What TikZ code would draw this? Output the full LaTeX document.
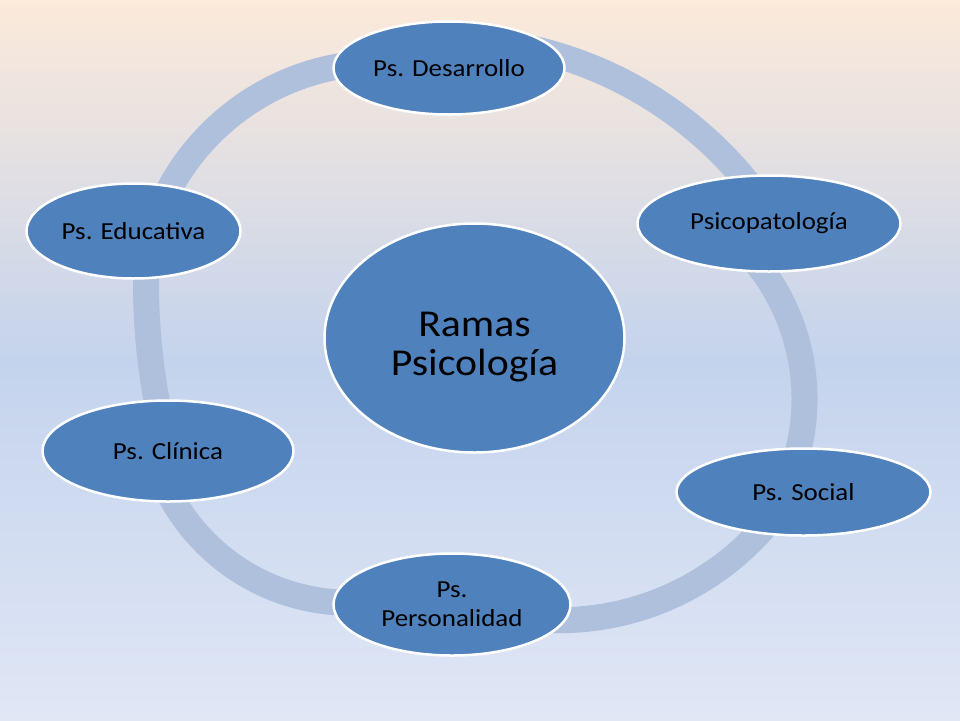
\documentclass[tikz,border=0pt]{standalone}
\usepackage{fontspec}
\setmainfont{Carlito}[FakeStretch=1.1]
\usetikzlibrary{shapes.geometric}
\definecolor{bgtop}{RGB}{252,234,218}
\definecolor{bgmid}{RGB}{196,211,237}
\definecolor{bgbot}{RGB}{224,231,245}
\definecolor{ringc}{RGB}{175,192,221}
\definecolor{nodefill}{RGB}{79,129,189}
\tikzset{
  branch/.style={ellipse, fill=nodefill, draw=white, line width=2.5pt, line join=round,
    inner sep=0pt, text=black, align=center, font=\fontsize{24.5}{29}\selectfont},
  hub/.style={ellipse, fill=nodefill, draw=white, line width=2.5pt, line join=round, inner sep=0pt},
  hubtext/.style={text=black, align=center, font=\fontsize{38}{39.5}\selectfont, yshift=-9pt},
  ring/.style={draw=ringc, line width=26pt}
}
\begin{document}
\begin{tikzpicture}[x=1pt,y=-1pt]
\shade[top color=bgtop, bottom color=bgbot, middle color=bgmid] (0,0) rectangle (960,720);
\useasboundingbox (0,0) rectangle (960,720);
% ring: one arc between each pair of neighbouring branches (ends hidden under the ellipses)
\draw[ring] (381,303) ++(200:240.4) arc[start angle=200, end angle=268, radius=240.4];
\draw[ring] (444.9,428.5) ++(280:389.9) arc[start angle=280, end angle=325, radius=389.9];
\draw[ring] (587.6,398.9) ++(-42:216.9) arc[start angle=-42, end angle=20, radius=216.9];
\draw[ring] (559.2,348.1) ++(36:272.1) arc[start angle=36, end angle=100, radius=272.1];
\draw[ring] (349.7,399) ++(85:203.7) arc[start angle=85, end angle=158, radius=203.7];
\draw[ring] (778.8,284.5) ++(165:632.8) arc[start angle=165, end angle=186, radius=632.8];
\node[hub, minimum width=300pt, minimum height=229pt,
  label={[hubtext]center:Ramas\\Psicología}] (ram) at (474.5,338) {};
\node[branch, minimum width=231pt, minimum height=93pt] (des) at (449,68) {Ps. Desarrollo};
\node[branch, minimum width=263pt, minimum height=96pt] (pat) at (769,223.5) {Psicopatología};
\node[branch, minimum width=254pt, minimum height=87pt] (soc) at (803.5,492) {Ps. Social};
\node[branch, minimum width=237pt, minimum height=102pt] (per) at (452,604.5) {Ps.\\Personalidad};
\node[branch, minimum width=251pt, minimum height=101pt] (cli) at (168,451) {Ps. Clínica};
\node[branch, minimum width=214pt, minimum height=95pt] (edu) at (133.5,231) {Ps. Educativa};
\end{tikzpicture}
\end{document}
